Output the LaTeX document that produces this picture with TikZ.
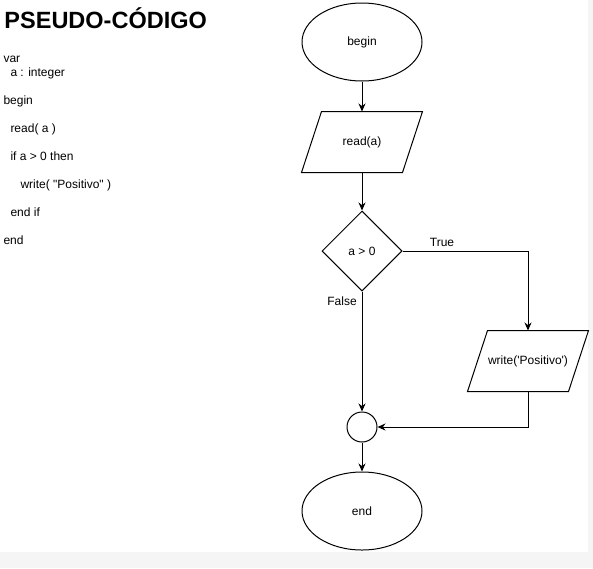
\documentclass[tikz,border=0pt]{standalone}
\usepackage{fontspec}
\setmainfont{Liberation Sans}
\usetikzlibrary{shapes.geometric,arrows.meta}
\begin{document}
\begin{tikzpicture}[x=1pt,y=-1pt,
  font=\fontsize{12}{14}\selectfont,
  line width=1pt,
  >={Stealth[length=8pt,width=7pt]},
  term/.style={ellipse, draw, minimum width=120pt, minimum height=78pt, inner sep=0pt},
  iobox/.style={rectangle, minimum width=120pt, minimum height=60pt, inner sep=0pt},
  decision/.style={diamond, draw, minimum width=80pt, minimum height=80pt, inner sep=0pt},
  joint/.style={circle, draw, minimum size=30pt, inner sep=0pt},
  code/.style={anchor=base west, inner sep=0pt},
  lbl/.style={inner sep=0pt},
  para/.style={draw, line width=1pt}]
\useasboundingbox (0,0) rectangle (593,568);
\fill[black!4] (0,552) rectangle (593,568);
\fill[black!4] (588,0) rectangle (593,568);

% pseudo-code
\node[code, font=\bfseries\fontsize{23.5}{24}\selectfont] (title) at (4,28.5) {PSEUDO-CÓDIGO};
\node[code] (c1) at (3,62) {var};
\node[code] (c2) at (10,76) {a : integer};
\node[code] (c3) at (3,104) {begin};
\node[code] (c4) at (10,132) {read( a )};
\node[code] (c5) at (10,160) {if a > 0 then};
\node[code] (c6) at (20,188) {write( \textquotedbl Positivo\textquotedbl\ )};
\node[code] (c7) at (10,216) {end if};
\node[code] (c8) at (3,244) {end};

% flowchart
\node[term] (b) at (362,42) {begin};
\node[iobox] (r) at (362,142) {read(a)};
\draw[para] ([xshift=20pt]r.north west) -- (r.north east) -- ([xshift=-20pt]r.south east) -- (r.south west) -- cycle;
\node[decision] (d) at (362,251) {a > 0};
\node[iobox] (w) at (528,361) {write(\textquotesingle Positivo\textquotesingle)};
\draw[para] ([xshift=20pt]w.north west) -- (w.north east) -- ([xshift=-20pt]w.south east) -- (w.south west) -- cycle;
\node[joint] (j) at (362,427) {};
\node[term] (e) at (362,511) {end};

\draw[->] (b) -- (r);
\draw[->] (r) -- (d);
\draw[->] (d.east) -| (w.north);
\draw[->] (d.south) -- (j.north);
\draw[->] (w.south) |- (j.east);
\draw[->] (j) -- (e);

\node[lbl] (t) at (442,242) {True};
\node[lbl] (f) at (342,301) {False};
\end{tikzpicture}
\end{document}
